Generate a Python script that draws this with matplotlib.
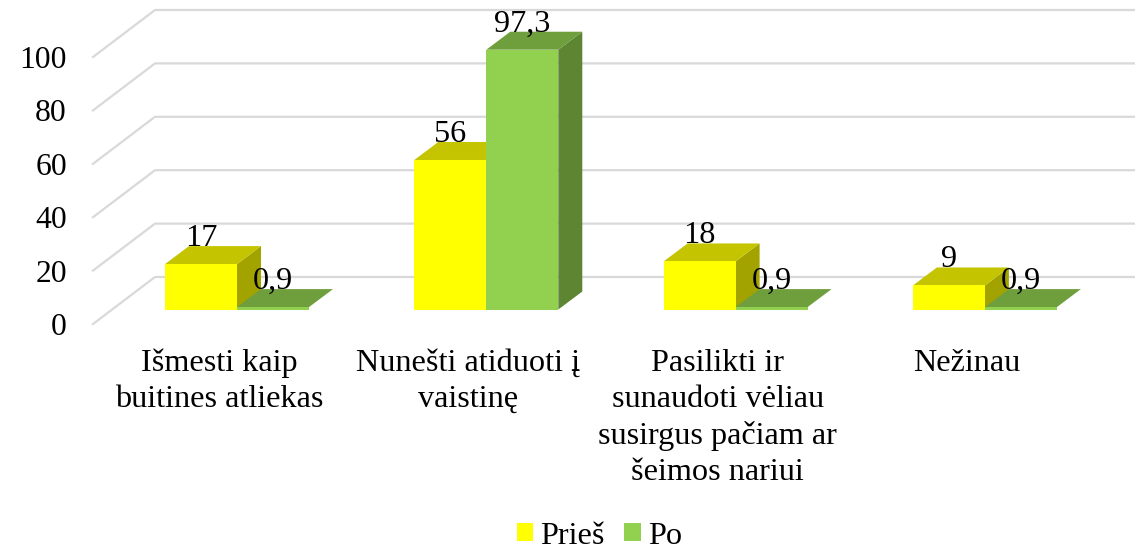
import matplotlib.pyplot as plt
from matplotlib.patches import Patch, Polygon

categories = [
    "Išmesti kaip\nbuitines atliekas",
    "Nunešti atiduoti į\nvaistinę",
    "Pasilikti ir\nsunaudoti vėliau\nsusirgus pačiam ar\nšeimos nariui",
    "Nežinau",
]
pries = [17, 56, 18, 9]
po = [0.9, 97.3, 0.9, 0.9]
pries_labels = ["17", "56", "18", "9"]
po_labels = ["0,9", "97,3", "0,9", "0,9"]
y_ticks = [0, 20, 40, 60, 80, 100]

plt.rcParams["font.family"] = ["Liberation Serif", "DejaVu Serif"]
FS = 23.2

# pixel scale of the picture
W, H = 1135, 550
x0_px, slot_px = 237.0, 249.3
y0_px, unit_px = 309.5, 2.67

fig = plt.figure(figsize=(W / 100, H / 100), dpi=100)
ax = fig.add_axes([0, 0, 1, 1])
ax.set_xlim(-x0_px / slot_px, (W - x0_px) / slot_px)
ax.set_ylim((y0_px - H) / unit_px, y0_px / unit_px)
ax.axis("off")

bar_w = 72 / slot_px
bar_dx = 24 / slot_px
bar_dy = 18 / unit_px

# floor/back wall offsets relative to the bar baseline
wall_x_front = (93 - x0_px) / slot_px
wall_x_back = (155 - x0_px) / slot_px
wall_y_front = (y0_px - 324) / unit_px
wall_y_back = (y0_px - 277) / unit_px
wall_x_end = (W - x0_px) / slot_px

for t in y_ticks:
    ax.plot(
        [wall_x_front, wall_x_back, wall_x_end],
        [t + wall_y_front, t + wall_y_back, t + wall_y_back],
        color="#D9D9D9",
        linewidth=1.6,
        solid_joinstyle="miter",
        zorder=1,
    )
    ax.text(wall_x_front - 26 / slot_px, t + wall_y_front, str(t),
            ha="right", va="center_baseline", fontsize=22.8, color="black", zorder=20)


def draw_bar(left, val, front, top, side, z):
    ax.bar(left, val, width=bar_w, align="edge", color=front, linewidth=0, zorder=z + 0.2)
    right = left + bar_w
    ax.add_patch(Polygon(
        [(left, val), (right, val), (right + bar_dx, val + bar_dy), (left + bar_dx, val + bar_dy)],
        closed=True, facecolor=top, edgecolor="none", zorder=z + 0.1,
    ))
    # the side of the very thin bars does not show in the picture
    if val > 2:
        ax.add_patch(Polygon(
            [(right, 0), (right + bar_dx, bar_dy), (right + bar_dx, val + bar_dy), (right, val)],
            closed=True, facecolor=side, edgecolor="none", zorder=z,
        ))


for i in range(len(categories)):
    draw_bar(i - bar_w, pries[i], "#FFFF00", "#C4C400", "#A3A300", 3)
    draw_bar(i, po[i], "#92D050", "#6F9F3D", "#5E8532", 5)

    ax.text(i - bar_w / 2, pries[i] + bar_dy, pries_labels[i], ha="center", va="baseline",
            fontsize=FS, color="black", zorder=20)
    ax.text(i + bar_w / 2, po[i] + bar_dy, po_labels[i], ha="center", va="baseline",
            fontsize=FS, color="black", zorder=20)

    ax.text(i - 18 / slot_px, (y0_px - 349) / unit_px, categories[i], ha="center", va="top",
            fontsize=FS, color="black", linespacing=1.31, zorder=20)

handles = [Patch(facecolor="#FFFF00", label="Prieš"), Patch(facecolor="#92D050", label="Po")]
ax.legend(
    handles=handles,
    loc="center",
    bbox_to_anchor=(599.5 / W, 1 - 536 / H),
    ncol=2,
    frameon=False,
    fontsize=FS,
    handlelength=0.52,
    handleheight=0.52,
    handletextpad=0.22,
    columnspacing=0.6,
    borderpad=0,
)

fig.savefig("out.png", dpi=100, facecolor="white")
